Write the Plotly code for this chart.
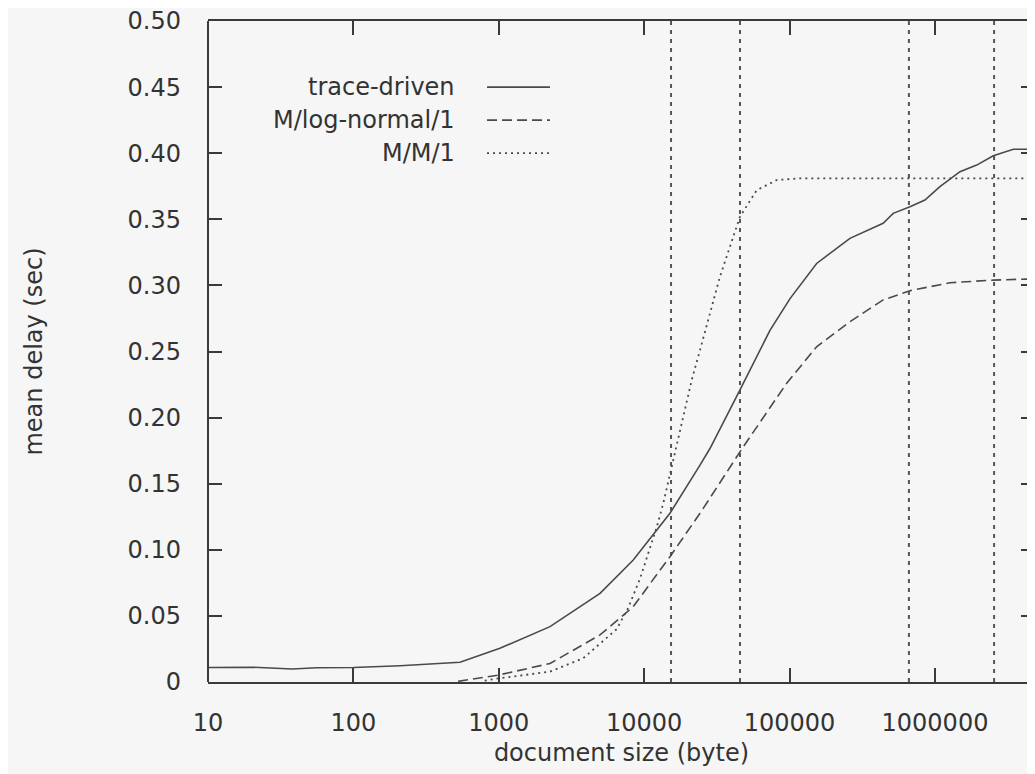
import plotly.graph_objects as go

# ---- data ----
trace_x = [10, 20, 38, 56, 100, 209, 541, 1018, 2250, 4970, 8410, 15040, 24200,
           28400, 45600, 73300, 100700, 153500, 260000, 440000, 516000, 673000,
           853000, 1081000, 1486000, 1936000, 2518000, 3460000, 5000000]
trace_y = [0.0110, 0.0112, 0.0098, 0.0108, 0.0110, 0.0123, 0.0149, 0.0255, 0.0419,
           0.0670, 0.0923, 0.1276, 0.1640, 0.1768, 0.2210, 0.2660, 0.2900, 0.3166,
           0.3356, 0.3470, 0.3545, 0.3595, 0.3646, 0.3747, 0.3860, 0.3910, 0.3980,
           0.4030, 0.4030]

lognorm_x = [525, 1000, 2250, 4970, 8410, 15040, 24200, 48100, 95500, 153500,
             260000, 440000, 673000, 1268000, 2518000, 5000000]
lognorm_y = [0.0005, 0.0053, 0.0140, 0.0356, 0.0570, 0.0948, 0.1276, 0.1780,
             0.2260, 0.2536, 0.2725, 0.2890, 0.2960, 0.3020, 0.3040, 0.3050]

mm1_x = [800, 1000, 2250, 3810, 6470, 7760, 9350, 12190, 13520, 15450, 17620,
         21230, 24200, 33200, 45600, 59400, 81500, 118000, 5000000]
mm1_y = [0.0010, 0.0028, 0.0078, 0.0180, 0.0400, 0.0560, 0.0780, 0.1170, 0.1350,
         0.1630, 0.1906, 0.2284, 0.2510, 0.3066, 0.3520, 0.3720, 0.3797, 0.3810,
         0.3810]

vline_x = [15300, 45600, 662000, 2550000]

series_names = ["trace-driven", "M/log-normal/1", "M/M/1"]

y_tickvals = [0, 0.05, 0.10, 0.15, 0.20, 0.25, 0.30, 0.35, 0.40, 0.45, 0.50]
y_ticktext = ["0", "0.05", "0.10", "0.15", "0.20", "0.25", "0.30", "0.35",
              "0.40", "0.45", "0.50"]
x_tickvals = [10, 100, 1000, 10000, 100000, 1000000]
x_ticktext = ["10", "100", "1000", "10000", "100000", "1000000"]
legend_levels = [0.45, 0.425, 0.40]

# ---- styling ----
LINE = "#4a4a4a"
AXIS = "#3a3a3a"
BG = "#f6f6f6"
FONT = "DejaVu Sans"
TXT = "#333333"
dashes = ["solid", "10px,5px", "2px,4px"]
widths = [1.6, 1.6, 1.8]

fig = go.Figure()

# vertical reference lines
vx, vy = [], []
for v in vline_x:
    vx += [v, v, None]
    vy += [0, 0.5, None]
fig.add_trace(go.Scatter(x=vx, y=vy, mode="lines", showlegend=False,
                         line=dict(color="#555555", width=2, dash="4px,5px"),
                         hoverinfo="skip"))

for name, xs, ys, d, w in zip(series_names, [trace_x, lognorm_x, mm1_x],
                              [trace_y, lognorm_y, mm1_y], dashes, widths):
    fig.add_trace(go.Scatter(x=xs, y=ys, mode="lines", name=name, showlegend=False,
                             line=dict(color=LINE, width=w, dash=d)))

# hand-made key: right-aligned text, line sample to the right (gnuplot style)
for name, lev, d, w in zip(series_names, legend_levels, dashes, widths):
    fig.add_annotation(x=0.3011, xref="paper", y=lev, yref="y", text=name,
                       showarrow=False, xanchor="right", yanchor="middle",
                       font=dict(family=FONT, size=24, color=TXT))
    fig.add_shape(type="line", xref="paper", yref="y", x0=0.3374, x1=0.4135,
                  y0=lev, y1=lev, line=dict(color=LINE, width=w, dash=d))

# left frame line (the right one is cropped out of the picture)
fig.add_shape(type="line", xref="paper", yref="paper", x0=0, x1=0, y0=0, y1=1,
              line=dict(color=AXIS, width=2))

fig.update_xaxes(type="log", range=[1, 6.688], tickvals=x_tickvals,
                 ticktext=x_ticktext, ticks="inside", ticklen=14, tickwidth=2,
                 tickcolor=AXIS, showline=True, linecolor=AXIS, linewidth=2,
                 mirror="ticks", showgrid=False, zeroline=False,
                 ticklabelstandoff=18, ticklabeloverflow="allow",
                 tickfont=dict(family=FONT, size=24, color=TXT),
                 title=dict(text="document size (byte)", standoff=8,
                            font=dict(family=FONT, size=24, color=TXT)))
fig.update_yaxes(range=[0, 0.5], tickvals=y_tickvals, ticktext=y_ticktext,
                 ticks="inside", ticklen=14, tickwidth=2, tickcolor=AXIS,
                 showline=False, mirror="ticks", showgrid=False, zeroline=False,
                 ticklabelstandoff=26, ticklabeloverflow="allow",
                 tickfont=dict(family=FONT, size=24, color=TXT),
                 title=dict(text="mean delay (sec)", standoff=78,
                            font=dict(family=FONT, size=24, color=TXT)))

# the page adds an 8px body margin, so the figure is sized/positioned for it
fig.update_layout(width=1027, height=766, paper_bgcolor=BG, plot_bgcolor=BG,
                  margin=dict(l=200, r=0, t=13, b=92), showlegend=False)

fig.write_html("out.html")
